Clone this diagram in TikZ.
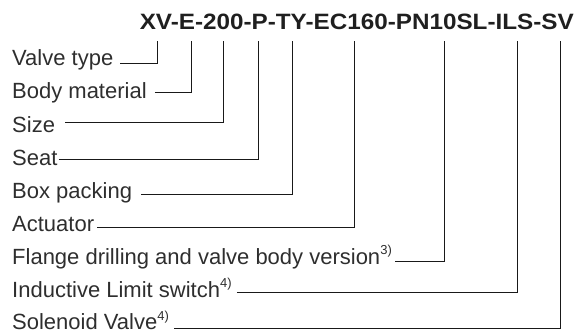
\documentclass[tikz,border=0pt]{standalone}
\usepackage{fontspec}
\usepackage{graphicx}
\setmainfont{Liberation Sans}
\newcommand{\supnote}[1]{\raisebox{0.42em}{\fontsize{13}{13}\selectfont #1}}
\begin{document}
\begin{tikzpicture}[x=1pt,y=-1pt,
  lbl/.style={anchor=base west, inner sep=0pt, text=black!82, font=\fontsize{22}{22}\selectfont},
  conn/.style={draw=black!90, line width=0.9pt}]
\useasboundingbox (0,0) rectangle (577,334);
\node[anchor=base east, inner sep=0pt, text=black!88] (code) at (574,30)
  {\resizebox{434pt}{15.5pt}{\bfseries XV-E-200-P-TY-EC160-PN10SL-ILS-SV}};
% labels
\node[lbl] (l1) at (12,66)  {Valve type};
\node[lbl] (l2) at (12,99)  {Body material};
\node[lbl] (l3) at (12,132) {Size};
\node[lbl] (l4) at (12,165) {Seat};
\node[lbl] (l5) at (12,198) {Box packing};
\node[lbl] (l6) at (12,231) {Actuator};
\node[lbl] (l7) at (12,264) {Flange drilling and valve body version\supnote{3)}};
\node[lbl] (l8) at (12,297) {Inductive Limit switch\supnote{4)}};
\node[lbl] (l9) at (12,329.5) {Solenoid Valve\supnote{4)}};
% tops of the leaders under the code
\coordinate (t1) at (157,41);
\coordinate (t2) at (191,41);
\coordinate (t3) at (223,41);
\coordinate (t4) at (258,41);
\coordinate (t5) at (292,41);
\coordinate (t6) at (354,41);
\coordinate (t7) at (444,41);
\coordinate (t8) at (517,41);
\coordinate (t9) at (560,41);
% corners
\coordinate (h1) at (157,63);
\coordinate (h2) at (191,92);
\coordinate (h3) at (223,122);
\coordinate (h4) at (258,159);
\coordinate (h5) at (292,194);
\coordinate (h6) at (354,227);
\coordinate (h7) at (444,261);
\coordinate (h8) at (517,292);
\coordinate (h9) at (560,328);
% connectors
\draw[conn] ([xshift=7pt]l1.east |- h1) -- (h1) -- (t1);
\draw[conn] ([xshift=8pt]l2.east |- h2) -- (h2) -- (t2);
\draw[conn] ([xshift=10pt]l3.east |- h3) -- (h3) -- (t3);
\draw[conn] ([xshift=1pt]l4.east |- h4) -- (h4) -- (t4);
\draw[conn] ([xshift=9pt]l5.east |- h5) -- (h5) -- (t5);
\draw[conn] ([xshift=3pt]l6.east |- h6) -- (h6) -- (t6);
\draw[conn] ([xshift=3pt]l7.east |- h7) -- (h7) -- (t7);
\draw[conn] ([xshift=5pt]l8.east |- h8) -- (h8) -- (t8);
\draw[conn] ([xshift=5pt]l9.east |- h9) -- (h9) -- (t9);
\end{tikzpicture}
\end{document}
